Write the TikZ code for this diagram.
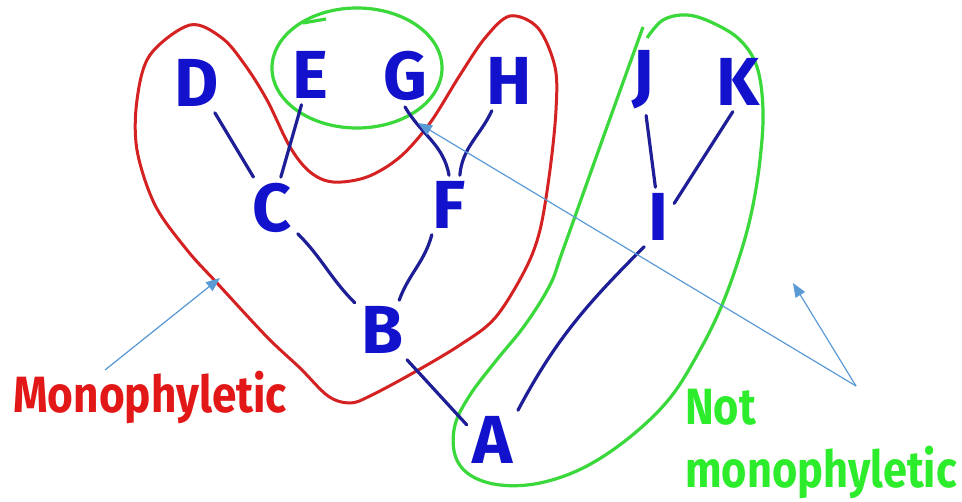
\documentclass[tikz,border=0pt]{standalone}
\usepackage{fontspec}
\setmainfont{Fira Sans}
\newfontfamily\lab[FakeStretch=0.865]{Fira Sans}
\newfontfamily\labg[FakeStretch=0.85]{Fira Sans}
\usetikzlibrary{arrows.meta}
\definecolor{letterblue}{HTML}{1212CC}
\definecolor{edgeblue}{HTML}{1E1E96}
\definecolor{cladered}{HTML}{D42222}
\definecolor{textred}{HTML}{E21818}
\definecolor{cladegreen}{HTML}{3AD83A}
\definecolor{textgreen}{HTML}{2CEC2C}
\definecolor{pointer}{HTML}{5B9BD5}
\tikzset{
  taxon/.style={font=\fontsize{68}{68}\selectfont\bfseries, text=letterblue, inner sep=6pt},
  branch/.style={draw=edgeblue, line width=3.2pt, line cap=round},
  redclade/.style={draw=cladered, line width=3pt},
  greenclade/.style={draw=cladegreen, line width=3.2pt},
  pointerarrow/.style={draw=pointer, line width=1.2pt, -{Triangle[length=14pt,width=11pt]}},
  redlabel/.style={font=\lab\fontsize{51}{51}\selectfont\bfseries, text=textred, inner sep=0pt, anchor=base west},
  greenlabel/.style={font=\labg\fontsize{51}{51}\selectfont\bfseries, text=textgreen, inner sep=0pt, anchor=base west}
}
\begin{document}
\begin{tikzpicture}[x=1pt,y=1pt]
\useasboundingbox[fill=white] (0,0) rectangle (962,-502);
% clade outlines
\draw[redclade] plot[smooth cycle, tension=0.55] coordinates {
 (190,-25) (222,-38) (245,-65) (267,-100) (290,-147) (310,-172) (333,-182)
 (367,-177) (400,-157) (430,-123) (460,-75) (485,-38) (510,-16) (538,-28)
 (555,-67) (556,-110) (550,-170) (540,-230) (525,-270) (495,-318) (460,-345)
 (413,-373) (370,-396) (350,-403) (328,-396) (300,-368) (267,-337) (217,-283)
 (187,-250) (155,-205) (137,-150) (137,-100) (150,-55)};
\draw[greenclade] (357,-68) ellipse [x radius=85, y radius=60];
\draw[greenclade] (303,-23) -- (326,-19);
\draw[greenclade] plot[smooth, tension=0.6] coordinates {
 (643,-27) (603,-138) (563,-250) (550,-285) (525,-325) (495,-362) (470,-395)
 (455,-425) (455,-455) (470,-475) (500,-485) (540,-483) (585,-467) (630,-437)
 (670,-398) (700,-350) (722,-305) (740,-255) (752,-210) (760,-160) (763,-110)
 (757,-67) (740,-40) (713,-23) (687,-15) (663,-20) (647,-38)};
% taxa
\node[taxon] (D) at (197,-83) {D};
\node[taxon] (E) at (310,-75) {E};
\node[taxon] (G) at (405,-76) {G};
\node[taxon] (H) at (509,-81) {H};
\node[taxon] (J) at (643,-80) {J};
\node[taxon] (K) at (738,-82) {K};
\node[taxon] (C) at (272,-208) {C};
\node[taxon] (F) at (449,-205) {F};
\node[taxon] (I) at (658,-217) {I};
\node[taxon] (B) at (382,-330) {B};
\node[taxon] (A) at (493,-440) {A};
% branches
\draw[branch] (D) -- (C);
\draw[branch] (E) -- (C);
\draw[branch] (G.south) to[out=-60,in=100] (F.north);
\draw[branch] (H.-120) to[out=-115,in=85] (F.70);
\draw[branch] (C) to[out=-45,in=135] (B);
\draw[branch] (F.-120) to[out=-105,in=70] (B.60);
\draw[branch] (B.-50) -- (A.150);
\draw[branch] (J.-85) -- (I.95);
\draw[branch] (K.-100) -- (I.40);
\draw[branch] (I.-115) to[out=-135,in=62] (A.50);
% labels
\node[redlabel] (mono) at (13,-413) {Monophyletic};
\node[greenlabel] (not) at (685,-425) {Not};
\node[greenlabel] (notmono) at (685,-488) {monophyletic};
% pointers
\coordinate (m1) at (105,-370);
\coordinate (m2) at (220,-278);
\coordinate (p0) at (856,-386);
\coordinate (p1) at (418,-123);
\coordinate (p2) at (793,-283);
\draw[pointerarrow] (m1) -- (m2);
\draw[pointerarrow] (p0) -- (p1);
\draw[pointerarrow] (p0) -- (p2);
\end{tikzpicture}
\end{document}
